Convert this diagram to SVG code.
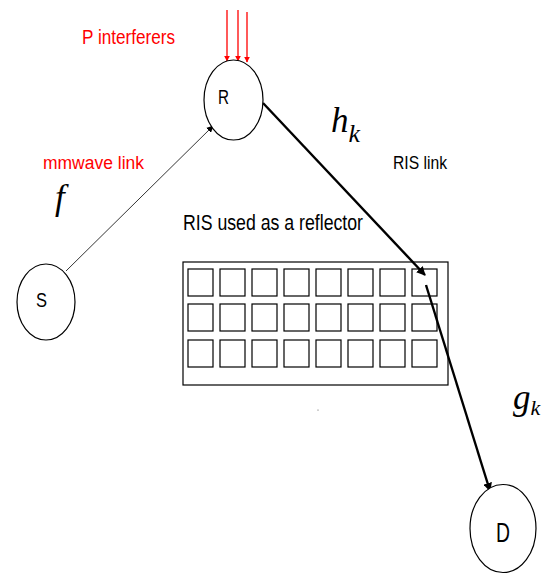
<svg xmlns="http://www.w3.org/2000/svg" width="550" height="576" viewBox="0 0 550 576">
  <style>
    .node { fill: #fff; stroke: #000; stroke-width: 1.2; }
    .lbl { font-family: "Liberation Sans", Arial, sans-serif; fill: #000; }
    .red { fill: #ff0000; }
    .math { font-family: "Liberation Serif", "DejaVu Serif", serif; font-style: italic; fill: #000; }
    .cell { fill: none; stroke: #000; stroke-width: 1.2; }
  </style>
  <defs>
    <marker id="headThin" viewBox="0 0 10 10" refX="9" refY="5" markerWidth="7" markerHeight="7" markerUnits="userSpaceOnUse" orient="auto">
      <path d="M0,0 L10,5 L0,10 z" fill="#000"/>
    </marker>
    <marker id="headThick" viewBox="0 0 10 10" refX="9" refY="5" markerWidth="9" markerHeight="9" markerUnits="userSpaceOnUse" orient="auto">
      <path d="M0,0 L10,5 L0,10 z" fill="#000"/>
    </marker>
    <marker id="headRed" viewBox="0 0 10 10" refX="9" refY="5" markerWidth="6" markerHeight="6" markerUnits="userSpaceOnUse" orient="auto">
      <path d="M0,0 L10,5 L0,10 z" fill="#ff0000"/>
    </marker>
  </defs>

  <!-- connectors -->
  <g id="connectors">
    <line x1="66" y1="271" x2="213" y2="126" stroke="#000" stroke-width="0.8" marker-end="url(#headThin)"/>
    <line x1="263" y1="103" x2="425" y2="275" stroke="#000" stroke-width="2.4" marker-end="url(#headThick)"/>
    <line x1="426" y1="285" x2="490" y2="491" stroke="#000" stroke-width="2.4" marker-end="url(#headThick)"/>
    <line x1="227" y1="10" x2="227" y2="61" stroke="#ff0000" stroke-width="1.3" marker-end="url(#headRed)"/>
    <line x1="238" y1="10" x2="238" y2="61" stroke="#ff0000" stroke-width="1.3" marker-end="url(#headRed)"/>
    <line x1="247" y1="12" x2="247" y2="62" stroke="#ff0000" stroke-width="1.3" marker-end="url(#headRed)"/>
  </g>

  <!-- relay -->
  <g id="node-R">
    <ellipse class="node" cx="233.5" cy="100" rx="29.5" ry="40"/>
    <text class="lbl" x="223.5" y="104" font-size="20" text-anchor="middle" textLength="11" lengthAdjust="spacingAndGlyphs">R</text>
  </g>

  <!-- source -->
  <g id="node-S">
    <ellipse class="node" cx="46" cy="302" rx="29" ry="38"/>
    <text class="lbl" x="41.5" y="307" font-size="21" text-anchor="middle" textLength="11" lengthAdjust="spacingAndGlyphs">S</text>
  </g>

  <!-- destination -->
  <g id="node-D">
    <ellipse class="node" cx="503" cy="528.5" rx="33" ry="44"/>
    <text class="lbl" x="503" y="542" font-size="27" text-anchor="middle" textLength="14" lengthAdjust="spacingAndGlyphs">D</text>
  </g>

  <!-- reflecting surface -->
  <g id="node-RIS">
    <rect x="183" y="262" width="265" height="123" fill="none" stroke="#000" stroke-width="1.2"/>
    <g id="ris-row1">
      <rect class="cell" x="188" y="269" width="25" height="27"/>
      <rect class="cell" x="220" y="269" width="25" height="27"/>
      <rect class="cell" x="252" y="269" width="25" height="27"/>
      <rect class="cell" x="284" y="269" width="25" height="27"/>
      <rect class="cell" x="316" y="269" width="25" height="27"/>
      <rect class="cell" x="348" y="269" width="25" height="27"/>
      <rect class="cell" x="380" y="269" width="25" height="27"/>
      <rect class="cell" x="412" y="269" width="25" height="27"/>
    </g>
    <g id="ris-row2">
      <rect class="cell" x="188" y="304" width="25" height="27"/>
      <rect class="cell" x="220" y="304" width="25" height="27"/>
      <rect class="cell" x="252" y="304" width="25" height="27"/>
      <rect class="cell" x="284" y="304" width="25" height="27"/>
      <rect class="cell" x="316" y="304" width="25" height="27"/>
      <rect class="cell" x="348" y="304" width="25" height="27"/>
      <rect class="cell" x="380" y="304" width="25" height="27"/>
      <rect class="cell" x="412" y="304" width="25" height="27"/>
    </g>
    <g id="ris-row3">
      <rect class="cell" x="188" y="340" width="25" height="27"/>
      <rect class="cell" x="220" y="340" width="25" height="27"/>
      <rect class="cell" x="252" y="340" width="25" height="27"/>
      <rect class="cell" x="284" y="340" width="25" height="27"/>
      <rect class="cell" x="316" y="340" width="25" height="27"/>
      <rect class="cell" x="348" y="340" width="25" height="27"/>
      <rect class="cell" x="380" y="340" width="25" height="27"/>
      <rect class="cell" x="412" y="340" width="25" height="27"/>
    </g>
  </g>

  <!-- labels -->
  <g id="labels">
    <text class="lbl red" x="82" y="44" font-size="21" textLength="93" lengthAdjust="spacingAndGlyphs">P interferers</text>
    <text class="lbl red" x="43" y="169" font-size="18" textLength="101" lengthAdjust="spacingAndGlyphs">mmwave link</text>
    <text class="math" x="55" y="209" font-size="35">f</text>
    <text class="lbl" x="183" y="230" font-size="22" textLength="180" lengthAdjust="spacingAndGlyphs">RIS used as a reflector</text>
    <text class="math" x="331" y="132" font-size="35">h<tspan font-size="26" dy="10">k</tspan></text>
    <text class="lbl" x="393" y="169" font-size="18" textLength="54" lengthAdjust="spacingAndGlyphs">RIS link</text>
    <text class="math" x="513" y="409" font-size="35">g<tspan font-size="22" dy="6">k</tspan></text>
  </g>

  <circle cx="318" cy="410" r="0.6" fill="#555"/>
</svg>
